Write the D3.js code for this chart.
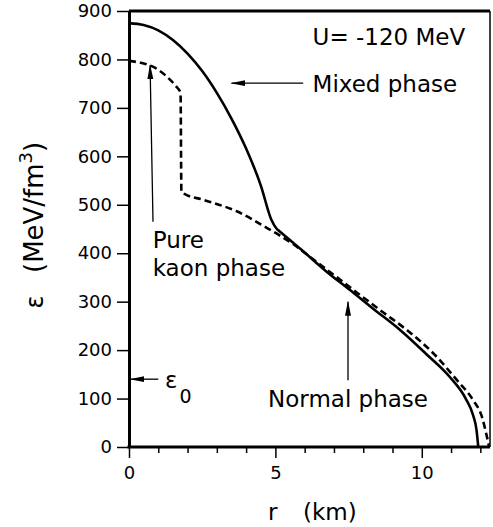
<!DOCTYPE html>
<html>
<head>
<meta charset="utf-8">
<script src="https://cdn.jsdelivr.net/npm/d3@7"></script>
<style>
  body { margin: 0; background: #fff; }
  svg { display: block; font-family: "DejaVu Sans", sans-serif; }
</style>
</head>
<body>
<script>
// mixed phase curve (solid)
const mixedR = [0, 0.5, 1.0, 1.5, 2.0, 2.5, 3.0, 3.5, 4.0, 4.5, 4.87, 5.05, 5.15, 5.6, 5.95, 6.75, 7.55, 8.35, 9.25, 10.15, 10.95, 11.5, 11.75, 11.87, 11.93];
const mixedE = [875, 871, 860, 840, 812, 776, 731, 678, 616, 540, 468, 450, 445, 422, 404, 362, 324, 285, 242, 192, 145, 100, 66, 35, 0];

// pure kaon phase + normal phase curve (dashed)
const kaonR = [0, 0.4, 0.85, 1.3, 1.6, 1.76, 1.79, 1.85, 2.55, 3.7, 4.6, 5.6, 6.3, 7.0, 7.8, 8.7, 9.5, 10.4, 11.2, 11.75, 12.05, 12.2, 12.3];
const kaonE = [797, 793, 784, 764, 745, 731, 527, 524, 510, 486, 456, 419, 387, 355, 318, 277, 241, 193, 138, 97, 63, 28, 0];

const yTicks = [0, 100, 200, 300, 400, 500, 600, 700, 800, 900];
const xMajorTicks = [0, 5, 10];
const xMinorTicks = [1, 2, 3, 4, 6, 7, 8, 9, 11, 12];

// annotation arrows, in data units [r, eps]
const arrowFrom = [[0.82, 465], [5.95, 751], [7.48, 138], [1.0, 140]];
const arrowTo = [[0.72, 788], [3.5, 751], [7.48, 300], [0.05, 140]];

const margin = {top: 11, right: 3, bottom: 80, left: 129};
const width = 493 - margin.left - margin.right;
const height = 527 - margin.top - margin.bottom;

const svg = d3.select("body").append("svg")
    .attr("width", 493)
    .attr("height", 527);

svg.append("defs").append("marker")
    .attr("id", "head")
    .attr("markerUnits", "userSpaceOnUse")
    .attr("viewBox", "0 -4 15 8")
    .attr("refX", 14)
    .attr("refY", 0)
    .attr("markerWidth", 15)
    .attr("markerHeight", 8)
    .attr("orient", "auto")
    .append("path")
    .attr("d", "M0,-3L15,0L0,3Z")
    .attr("fill", "#000");

const g = svg.append("g")
    .attr("transform", `translate(${margin.left},${margin.top})`);

const x = d3.scaleLinear().domain([0, 12.33]).range([0, width]);
const y = d3.scaleLinear().domain([0, 900]).range([height, 0]);

// frame: top and right
g.append("line")
    .attr("x1", 0).attr("x2", width).attr("y1", 0).attr("y2", 0)
    .attr("stroke", "#000").attr("stroke-width", 3);
g.append("line")
    .attr("x1", width).attr("x2", width).attr("y1", 0).attr("y2", height)
    .attr("stroke", "#000").attr("stroke-width", 1.5);

// y axis
const yAxis = g.append("g")
    .call(d3.axisLeft(y).tickValues(yTicks).tickSize(12).tickSizeOuter(0).tickPadding(5));
yAxis.select(".domain").attr("stroke-width", 3);
yAxis.selectAll(".tick line").attr("stroke-width", 1.5);
yAxis.selectAll("text").attr("font-size", 18).attr("font-family", "DejaVu Sans");

// x axis, minor ticks then major ticks with labels
const xMinor = g.append("g")
    .attr("transform", `translate(0,${height})`)
    .call(d3.axisBottom(x).tickValues(xMinorTicks).tickSize(6).tickSizeOuter(0).tickFormat(""));
xMinor.selectAll(".tick line").attr("stroke-width", 1.5);
xMinor.select(".domain").remove();

const xAxis = g.append("g")
    .attr("transform", `translate(0,${height})`)
    .call(d3.axisBottom(x).tickValues(xMajorTicks).tickSize(11).tickSizeOuter(0).tickPadding(8));
xAxis.select(".domain").attr("stroke-width", 3).attr("d", `M-1.5,0H${width}`);
xAxis.selectAll(".tick line").attr("stroke-width", 1.5);
xAxis.selectAll("text").attr("font-size", 18).attr("font-family", "DejaVu Sans");

// curves
const line = d3.line()
    .x(d => x(d[0]))
    .y(d => y(d[1]))
    .curve(d3.curveMonotoneX);

g.append("path")
    .datum(d3.zip(mixedR, mixedE))
    .attr("d", line)
    .attr("fill", "none")
    .attr("stroke", "#000")
    .attr("stroke-width", 2.6);

g.append("path")
    .datum(d3.zip(kaonR, kaonE))
    .attr("d", line)
    .attr("fill", "none")
    .attr("stroke", "#000")
    .attr("stroke-width", 2.6)
    .attr("stroke-dasharray", "7,4");

// arrows
g.selectAll(".arrow")
    .data(d3.zip(arrowFrom, arrowTo))
    .join("line")
    .attr("class", "arrow")
    .attr("x1", d => x(d[0][0]))
    .attr("y1", d => y(d[0][1]))
    .attr("x2", d => x(d[1][0]))
    .attr("y2", d => y(d[1][1]))
    .attr("stroke", "#000")
    .attr("stroke-width", 1.3)
    .attr("marker-end", "url(#head)");

// labels
const labels = [
    {r: 6.27, e: 830, text: "U= -120 MeV"},
    {r: 6.27, e: 733, text: "Mixed phase"},
    {r: 0.81, e: 411, text: "Pure"},
    {r: 0.81, e: 354, text: "kaon phase"},
    {r: 4.75, e: 83, text: "Normal phase"}
];
g.selectAll(".lbl")
    .data(labels)
    .join("text")
    .attr("class", "lbl")
    .attr("x", d => x(d.r))
    .attr("y", d => y(d.e))
    .attr("font-size", 23)
    .text(d => d.text);

// eps_0 label
const eps0 = g.append("text")
    .attr("x", x(1.23))
    .attr("y", y(122))
    .attr("font-size", 23);
eps0.append("tspan").text("ε");
eps0.append("tspan").attr("dy", 15).attr("dx", 2).attr("font-size", 19).text("0");

// axis titles
svg.append("text")
    .attr("x", 268)
    .attr("y", 520)
    .attr("font-size", 23)
    .text("r");
svg.append("text")
    .attr("x", 303)
    .attr("y", 520)
    .attr("font-size", 23)
    .text("(km)");

svg.append("text")
    .attr("transform", "translate(43,302) rotate(-90)")
    .attr("text-anchor", "middle")
    .attr("font-size", 24)
    .text("ε");
const yTitle = svg.append("text")
    .attr("transform", "translate(43,273) rotate(-90)")
    .attr("font-size", 26);
yTitle.append("tspan").text("(MeV/fm");
yTitle.append("tspan").attr("dy", -11).attr("font-size", 18).text("3");
yTitle.append("tspan").attr("dy", 11).text(")");
</script>
</body>
</html>
